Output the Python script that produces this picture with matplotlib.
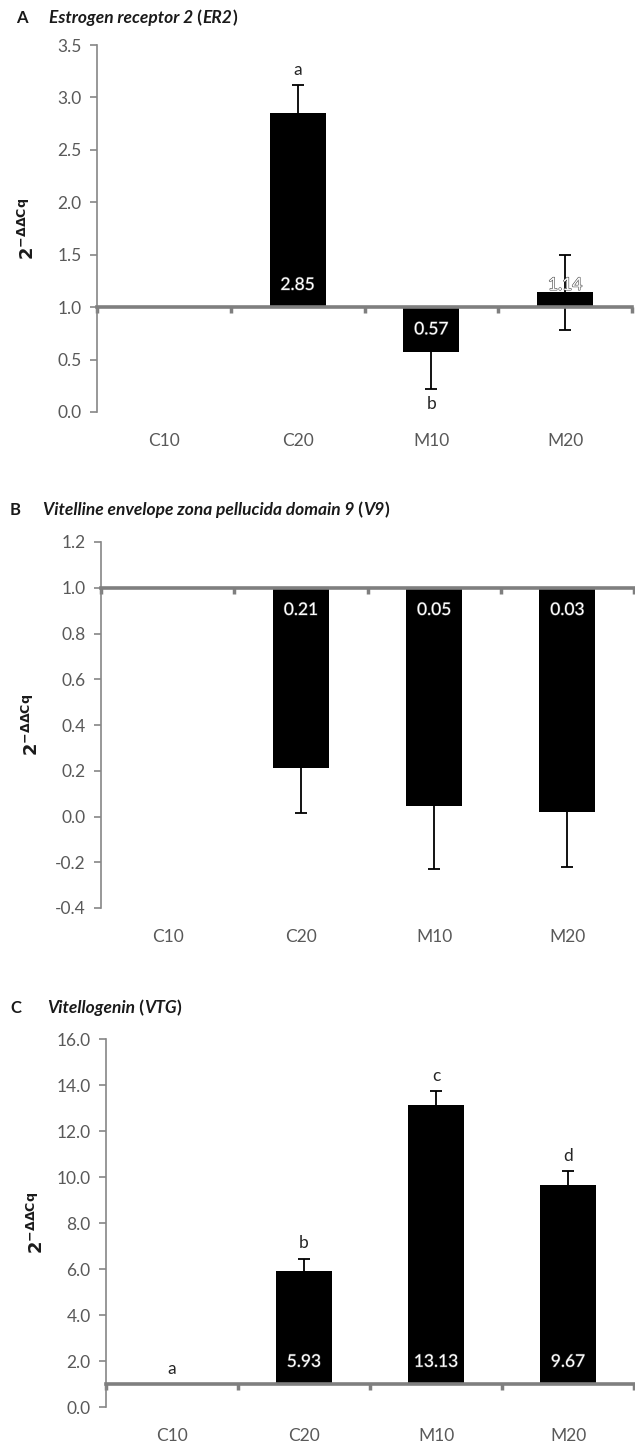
import numpy as np
import matplotlib.pyplot as plt
import matplotlib.patheffects as pe
from matplotlib.ticker import FormatStrFormatter

plt.rcParams['font.family'] = ['Lato', 'DejaVu Sans']
plt.rcParams['axes.unicode_minus'] = False

cats = ['C10', 'C20', 'M10', 'M20']

# panel A - ER2
er2_vals = [1.0, 2.85, 0.57, 1.14]
er2_err = [np.nan, 0.27, 0.35, 0.355]
er2_letters = ['', 'a', 'b', '']
er2_labels = ['', '2.85', '0.57', '1.14']

# panel B - V9
v9_vals = [1.0, 0.21, 0.045, 0.02]
v9_err = [np.nan, 0.195, 0.275, 0.24]
v9_letters = ['', '', '', '']
v9_labels = ['', '0.21', '0.05', '0.03']

# panel C - VTG
vtg_vals = [1.0, 5.93, 13.13, 9.67]
vtg_err = [np.nan, 0.52, 0.6, 0.58]
vtg_letters = ['a', 'b', 'c', 'd']
vtg_labels = ['', '5.93', '13.13', '9.67']

W, H = 635, 1448
fig = plt.figure(figsize=(W/100, H/100), dpi=100)

def rect(l, t, b, r):
    return [l/W, 1-b/H, (r-l)/W, (b-t)/H]

AX_GREY = '#868686'
TXT_GREY = '#595959'

def title(ax, letter, pieces, lx, tx, ty):
    fig.text(lx/W, 1-ty/H, letter, fontsize=12, fontweight='bold', va='center', color='#1a1a1a')
    prev = fig.text(tx/W, 1-ty/H, pieces[0], fontsize=12.5, fontweight='bold', style='italic',
                    va='center', color='#1a1a1a')
    for i, p in enumerate(pieces[1:]):
        st = 'italic' if i % 2 == 1 else 'normal'
        prev = fig.text(0, 0, p, fontsize=12.5, fontweight='bold', style=st, va='bottom', ha='left',
                        color='#1a1a1a', transform=prev.get_transform())
        prev.set_position((0, 0))
    return prev

def chain_title(letter, pieces, lx, tx, ty):
    fig.text(lx/W, 1-ty/H, letter, fontsize=12, fontweight='bold', va='center', color='#1a1a1a')
    prev = fig.text(tx/W, 1-ty/H, pieces[0], fontsize=12.5, fontweight='bold', style='italic',
                    va='center', color='#1a1a1a')
    for i, p in enumerate(pieces[1:]):
        st = 'italic' if i % 2 == 1 else 'normal'
        prev = plt.annotate(p, xy=(1, 0), xycoords=prev, va='bottom', ha='left', fontsize=12.5,
                            fontweight='bold', style=st, color='#1a1a1a')

def panel(box, vals, errs, letters, labels, ylim, yticks, fmt):
    ax = fig.add_axes(rect(*box))
    x = np.arange(len(cats))
    vals = np.array(vals)
    ax.bar(x, vals - 1.0, bottom=1.0, width=0.42, color='black', zorder=2)
    ax.errorbar(x, vals, yerr=errs, fmt='none', ecolor='black', elinewidth=1.3,
                capsize=4, capthick=1.3, zorder=3)
    ax.set_xlim(-0.5, len(cats) - 0.5)
    ax.set_ylim(*ylim)
    ax.set_yticks(yticks)
    ax.yaxis.set_major_formatter(FormatStrFormatter(fmt))
    for s in ['top', 'right']:
        ax.spines[s].set_visible(False)
    ax.spines['left'].set_color(AX_GREY)
    ax.spines['left'].set_linewidth(1.2)
    ax.spines['bottom'].set_position(('data', 1.0))
    ax.spines['bottom'].set_color('#7f7f7f')
    ax.spines['bottom'].set_linewidth(2.6)
    ax.spines['bottom'].set_zorder(4)
    ax.set_xticks(np.arange(len(cats) + 1) - 0.5)
    ax.set_xticklabels([])
    ax.tick_params(axis='x', direction='out', length=4, width=2.5, color='#7f7f7f')
    ax.tick_params(axis='y', direction='out', length=5, width=1.2, color=AX_GREY,
                   labelsize=12.5, labelcolor=TXT_GREY, pad=6)
    for i, c in enumerate(cats):
        ax.annotate(c, xy=(i, 0), xycoords=('data', 'axes fraction'), xytext=(0, -21),
                    textcoords='offset points', ha='center', va='center', fontsize=12.5, color=TXT_GREY)
    for i, v in enumerate(vals):
        e = 0 if np.isnan(errs[i]) else errs[i]
        if labels[i]:
            off = 16 if v >= 1 else -16
            ax.annotate(labels[i], xy=(i, 1.0), xytext=(0, off), textcoords='offset points',
                        ha='center', va='center', fontsize=12.5, color='white', zorder=5,
                        path_effects=[pe.withStroke(linewidth=0.8, foreground='#444444')])
        if letters[i]:
            if v >= 1:
                ax.annotate(letters[i], xy=(i, v + e), xytext=(0, 11), textcoords='offset points',
                            ha='center', va='center', fontsize=12.5, color='#262626')
            else:
                ax.annotate(letters[i], xy=(i, v - e), xytext=(0, -11), textcoords='offset points',
                            ha='center', va='center', fontsize=12.5, color='#262626')
    ax.set_ylabel(r'$\mathbf{2^{-ΔΔCq}}$', fontsize=13, color='#1a1a1a', labelpad=8)
    ax.yaxis.set_label_coords(-60/(box[3]-box[0]) * 1.0, 0.5)
    return ax

axA = panel((97, 45, 412, 632), er2_vals, er2_err, er2_letters, er2_labels,
            (0, 3.5), np.arange(0, 3.51, 0.5), '%.1f')
axB = panel((101, 542, 908, 634), v9_vals, v9_err, v9_letters, v9_labels,
            (-0.4, 1.2), np.arange(-0.4, 1.21, 0.2), '%.1f')
axC = panel((106, 1039, 1407, 634), vtg_vals, vtg_err, vtg_letters, vtg_labels,
            (0, 16), np.arange(0, 16.1, 2), '%.1f')

chain_title('A', ['Estrogen receptor 2', ' (', 'ER2', ')'], 16, 49, 18)
chain_title('B', ['Vitelline envelope zona pellucida domain 9', ' (', 'V9', ')'], 10, 43, 510)
chain_title('C', ['Vitellogenin', ' (', 'VTG', ')'], 10, 47, 1008)

fig.savefig('out.png', dpi=100)
